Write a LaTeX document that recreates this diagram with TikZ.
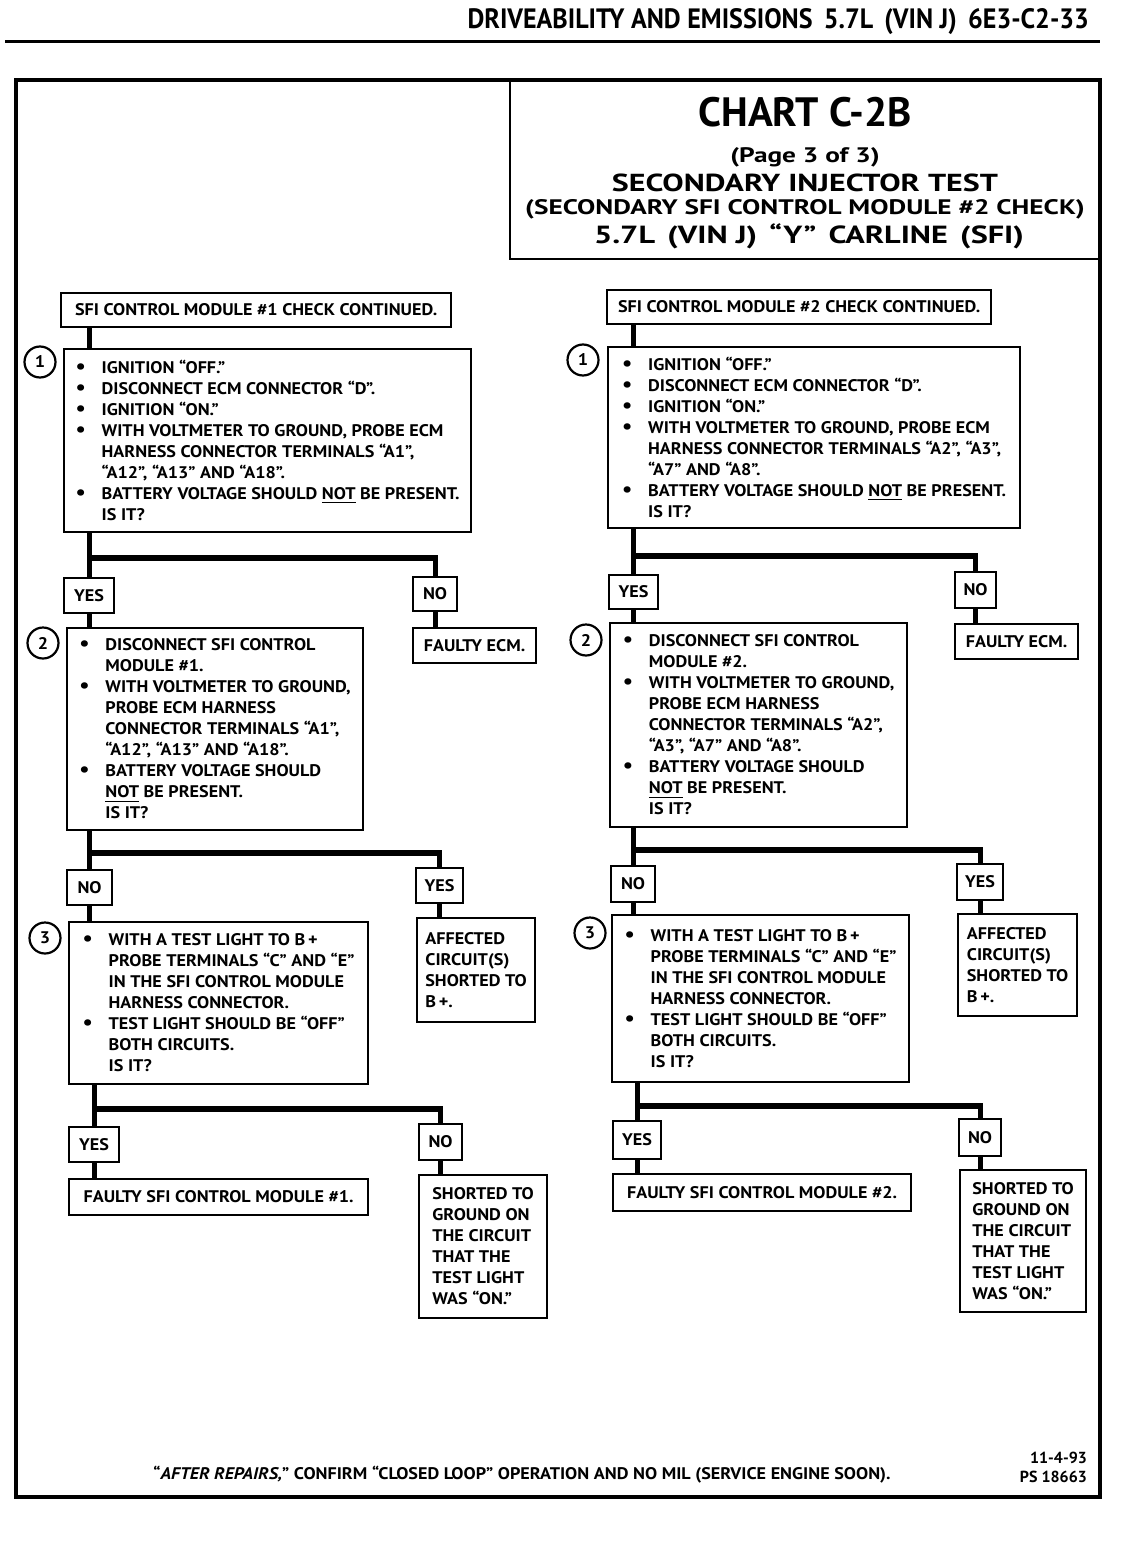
\documentclass[tikz,border=0pt]{standalone}
\usepackage{fontspec}
\setmainfont{PT Sans}
\newfontfamily\narrowfont{PT Sans}[FakeStretch=0.93]
\newfontfamily\widefont{PT Sans}[FakeStretch=1.3]
\newfontfamily\chartfont{PT Sans}[FakeStretch=1.08]
\newcommand{\boxfont}{\fontsize{8.4}{10.5}\selectfont\chartfont\bfseries}
\newcommand{\bu}{\makebox[13pt][l]{\fontsize{10.5}{10.5}\selectfont\textbullet}}
\newcommand{\ind}{\hspace*{13pt}}
\tikzset{
  chk/.style={draw, line width=1.1pt, anchor=north west, inner sep=0pt, align=left, font=\boxfont},
  ans/.style={draw, line width=1.1pt, anchor=north west, inner sep=0pt, font=\boxfont},
  stepnum/.style={draw, circle, line width=1.1pt, minimum size=15.5pt, inner sep=0pt, font=\boxfont},
  headline/.style={inner sep=0pt},
  link/.style={line width=2.6pt}
}

\begin{document}
\begin{tikzpicture}[x=0.5pt, y=-0.5pt]
    \useasboundingbox (0,0) rectangle (1120,1552);
    \node[anchor=east, font=\fontsize{14}{16}\selectfont\narrowfont\bfseries] (hdr) at (1096,22) {DRIVEABILITY AND EMISSIONS\, 5.7L\, (VIN J)\, 6E3-C2-33};
    \draw[line width=1.5pt] (5,42) -- (1100,42);
    \draw[line width=2pt] (16,80) rectangle (1100,1497);
    \draw[line width=1.2pt] (510,80) -- (510,259) -- (1100,259);
    \node[headline, font=\fontsize{20.5}{24}\selectfont\bfseries] (t1) at (805,112) {CHART C-2B};
    \node[headline, font=\fontsize{10.5}{12}\selectfont\widefont\bfseries] (t2) at (805,157) {(Page 3 of 3)};
    \node[headline, font=\fontsize{12.3}{14}\selectfont\widefont\bfseries] (t3) at (805,183) {SECONDARY INJECTOR TEST};
    \node[headline, font=\fontsize{10.5}{12}\selectfont\widefont\bfseries] (t4) at (805,209) {(SECONDARY SFI CONTROL MODULE \#2 CHECK)};
    \node[headline, font=\fontsize{12.4}{14}\selectfont\widefont\bfseries] (t5) at (809,236) {5.7L\, (VIN J)\, “Y”\, CARLINE\, (SFI)};

    \node[chk, minimum width=195pt, minimum height=17pt] (st1) at (60,292) {SFI CONTROL MODULE \#1 CHECK CONTINUED.};
    \node[chk, minimum width=203.5pt, minimum height=91.5pt] (q1) at (63,348) {\bu IGNITION “OFF.”\\ \bu DISCONNECT ECM CONNECTOR “D”.\\ \bu IGNITION “ON.”\\ \bu WITH VOLTMETER TO GROUND, PROBE ECM\\ \ind HARNESS CONNECTOR TERMINALS “A1”,\\ \ind “A12”, “A13” AND “A18”.\\ \bu BATTERY VOLTAGE SHOULD \underline{NOT} BE PRESENT.\\ \ind IS IT?};
    \node[stepnum] (n1) at (40,362) {1};
    \node[ans, minimum width=25pt, minimum height=17.5pt] (yes1) at (63,577) {YES};
    \node[ans, minimum width=22pt, minimum height=17pt] (no1) at (412,576) {NO};
    \node[chk, minimum width=61.5pt, minimum height=17.5pt] (ecm1) at (412,627) {FAULTY ECM.};
    \node[chk, minimum width=148pt, minimum height=101pt] (q2) at (66,627) {\bu DISCONNECT SFI CONTROL\\ \ind MODULE \#1.\\ \bu WITH VOLTMETER TO GROUND,\\ \ind PROBE ECM HARNESS\\ \ind CONNECTOR TERMINALS “A1”,\\ \ind “A12”, “A13” AND “A18”.\\ \bu BATTERY VOLTAGE SHOULD\\ \ind \underline{NOT} BE PRESENT.\\ \ind IS IT?};
    \node[stepnum] (n2) at (43,643) {2};
    \node[ans, minimum width=22.5pt, minimum height=17.5pt] (no2) at (66,869) {NO};
    \node[ans, minimum width=23.5pt, minimum height=17.5pt] (yes2) at (415,867) {YES};
    \node[chk, minimum width=59pt, minimum height=52pt] (aff1) at (416,917) {AFFECTED\\ CIRCUIT(S)\\ SHORTED TO\\ B\,+.};
    \node[chk, minimum width=149.5pt, minimum height=81pt] (q3) at (68,921) {\bu WITH A TEST LIGHT TO B\,+\\ \ind PROBE TERMINALS “C” AND “E”\\ \ind IN THE SFI CONTROL MODULE\\ \ind HARNESS CONNECTOR.\\ \bu TEST LIGHT SHOULD BE “OFF”\\ \ind BOTH CIRCUITS.\\ \ind IS IT?};
    \node[stepnum] (n3) at (45,938) {3};
    \node[ans, minimum width=25pt, minimum height=17.5pt] (yes3) at (68,1126) {YES};
    \node[ans, minimum width=21.5pt, minimum height=18pt] (no3) at (418,1123) {NO};
    \node[chk, minimum width=149.5pt, minimum height=18pt] (ok1) at (68,1178) {FAULTY SFI CONTROL MODULE \#1.};
    \node[chk, minimum width=64pt, minimum height=71.5pt] (sh1) at (418,1174) {SHORTED TO\\ GROUND ON\\ THE CIRCUIT\\ THAT THE\\ TEST LIGHT\\ WAS “ON.”};

    \node[chk, minimum width=192pt, minimum height=17pt] (st2) at (606,289) {SFI CONTROL MODULE \#2 CHECK CONTINUED.};
    \node[chk, minimum width=206pt, minimum height=90.5pt] (p1) at (607,346) {\bu IGNITION “OFF.”\\ \bu DISCONNECT ECM CONNECTOR “D”.\\ \bu IGNITION “ON.”\\ \bu WITH VOLTMETER TO GROUND, PROBE ECM\\ \ind HARNESS CONNECTOR TERMINALS “A2”, “A3”,\\ \ind “A7” AND “A8”.\\ \bu BATTERY VOLTAGE SHOULD \underline{NOT} BE PRESENT.\\ \ind IS IT?};
    \node[stepnum] (m1) at (583,360) {1};
    \node[ans, minimum width=24.5pt, minimum height=17pt] (yes4) at (608,574) {YES};
    \node[ans, minimum width=20.5pt, minimum height=18pt] (no4) at (954,571) {NO};
    \node[chk, minimum width=61.5pt, minimum height=17.5pt] (ecm2) at (954,623) {FAULTY ECM.};
    \node[chk, minimum width=148.5pt, minimum height=102pt] (p2) at (609,622) {\bu DISCONNECT SFI CONTROL\\ \ind MODULE \#2.\\ \bu WITH VOLTMETER TO GROUND,\\ \ind PROBE ECM HARNESS\\ \ind CONNECTOR TERMINALS “A2”,\\ \ind “A3”, “A7” AND “A8”.\\ \bu BATTERY VOLTAGE SHOULD\\ \ind \underline{NOT} BE PRESENT.\\ \ind IS IT?};
    \node[stepnum] (m2) at (586,640) {2};
    \node[ans, minimum width=22pt, minimum height=18pt] (no5) at (610,865) {NO};
    \node[ans, minimum width=23pt, minimum height=18pt] (yes5) at (956,863) {YES};
    \node[chk, minimum width=59.5pt, minimum height=51pt] (aff2) at (957,913) {AFFECTED\\ CIRCUIT(S)\\ SHORTED TO\\ B\,+.};
    \node[chk, minimum width=148.5pt, minimum height=83.5pt] (p3) at (611,914) {\bu WITH A TEST LIGHT TO B\,+\\ \ind PROBE TERMINALS “C” AND “E”\\ \ind IN THE SFI CONTROL MODULE\\ \ind HARNESS CONNECTOR.\\ \bu TEST LIGHT SHOULD BE “OFF”\\ \ind BOTH CIRCUITS.\\ \ind IS IT?};
    \node[stepnum] (m3) at (590,933) {3};
    \node[ans, minimum width=24pt, minimum height=19pt] (yes6) at (612,1120) {YES};
    \node[ans, minimum width=21pt, minimum height=18.5pt] (no6) at (958,1118) {NO};
    \node[chk, minimum width=149pt, minimum height=18.5pt] (ok2) at (612,1173) {FAULTY SFI CONTROL MODULE \#2.};
    \node[chk, minimum width=63pt, minimum height=71pt] (sh2) at (959,1169) {SHORTED TO\\ GROUND ON\\ THE CIRCUIT\\ THAT THE\\ TEST LIGHT\\ WAS “ON.”};

    \coordinate (j1) at (0,558);
    \coordinate (j2) at (0,853);
    \coordinate (j3) at (0,1109);
    \coordinate (k1) at (0,556);
    \coordinate (k2) at (0,850);
    \coordinate (k3) at (0,1106);

    \draw[link] (st1.south -| yes1) -- (q1.north -| yes1);
    \draw[link] (q1.south -| yes1) -- (yes1.north);
    \draw[link] (j1 -| yes1) -| (no1.north);
    \draw[link] (yes1.south) -- (q2.north -| yes1);
    \draw[link] (no1.south) -- (ecm1.north -| no1);
    \draw[link] (q2.south -| no2) -- (no2.north);
    \draw[link] (j2 -| no2) -| (yes2.north);
    \draw[link] (no2.south) -- (q3.north -| no2);
    \draw[link] (yes2.south) -- (aff1.north -| yes2);
    \draw[link] (q3.south -| yes3) -- (yes3.north);
    \draw[link] (j3 -| yes3) -| (no3.north);
    \draw[link] (yes3.south) -- (ok1.north -| yes3);
    \draw[link] (no3.south) -- (sh1.north -| no3);

    \draw[link] (st2.south -| yes4) -- (p1.north -| yes4);
    \draw[link] (p1.south -| yes4) -- (yes4.north);
    \draw[link] (k1 -| yes4) -| (no4.north);
    \draw[link] (yes4.south) -- (p2.north -| yes4);
    \draw[link] (no4.south) -- (ecm2.north -| no4);
    \draw[link] (p2.south -| no5) -- (no5.north);
    \draw[link] (k2 -| no5) -| (yes5.north);
    \draw[link] (no5.south) -- (p3.north -| no5);
    \draw[link] (yes5.south) -- (aff2.north -| yes5);
    \draw[link] (p3.south -| yes6) -- (yes6.north);
    \draw[link] (k3 -| yes6) -| (no6.north);
    \draw[link] (yes6.south) -- (ok2.north -| yes6);
    \draw[link] (no6.south) -- (sh2.north -| no6);

    \node[font=\boxfont] (ftr) at (522,1475) {“\textit{AFTER REPAIRS,}” CONFIRM “CLOSED LOOP” OPERATION AND NO MIL (SERVICE ENGINE SOON).};
    \node[anchor=east, align=right, font=\fontsize{8}{9.5}\selectfont\bfseries] (ref) at (1094,1467) {11-4-93\\ PS 18663};
\end{tikzpicture}
\end{document}
